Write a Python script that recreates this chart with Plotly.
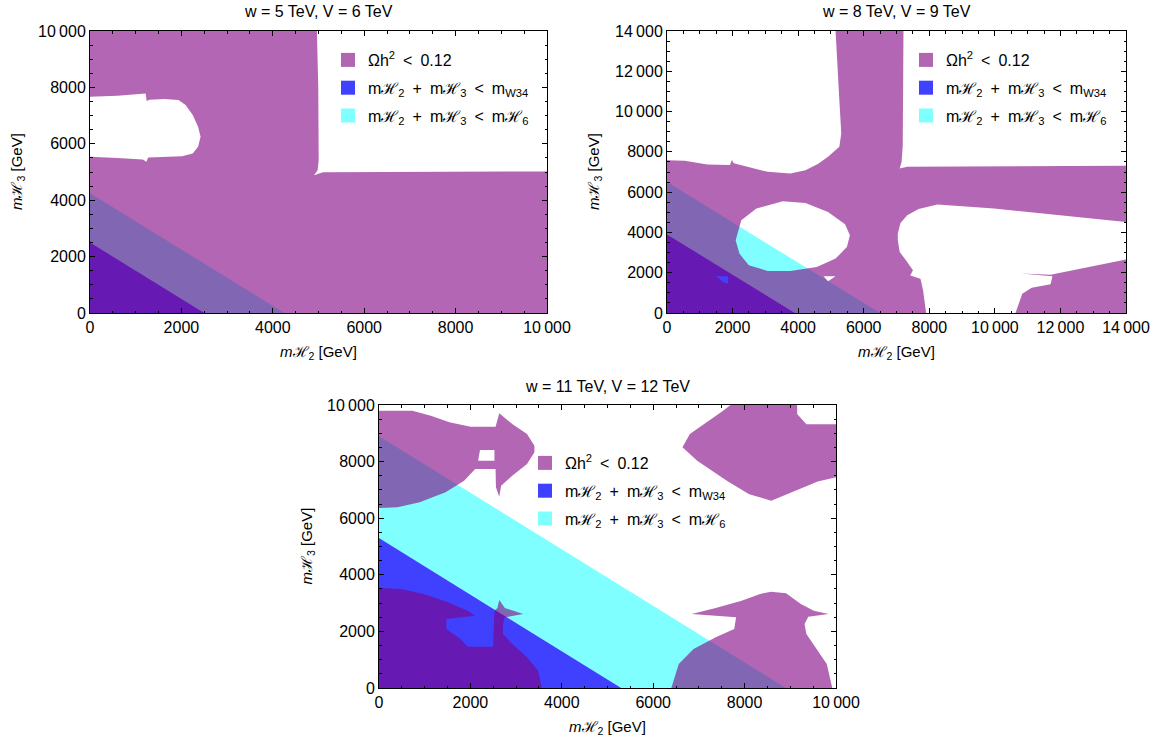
import plotly.graph_objects as go

# ---------------- data ----------------
TITLES = ["w = 5 TeV, V = 6 TeV", "w = 8 TeV, V = 9 TeV", "w = 11 TeV, V = 12 TeV"]
AXMAX = [10000, 14000, 10000]
M_W34 = [2500, 3900, 5300]     # blue:  m_H2 + m_H3 < m_W34
M_H6 = [4250, 6500, 8900]      # cyan:  m_H2 + m_H3 < m_H6
TICKS = [[0, 2000, 4000, 6000, 8000, 10000],
         [0, 2000, 4000, 6000, 8000, 10000, 12000, 14000],
         [0, 2000, 4000, 6000, 8000, 10000]]
TICKTEXT = [["0", "2000", "4000", "6000", "8000", "10\u2009000"],
            ["0", "2000", "4000", "6000", "8000", "10\u2009000", "12\u2009000", "14\u2009000"],
            ["0", "2000", "4000", "6000", "8000", "10\u2009000"]]

# panel 1 : relic-density region (one ring)
p1_x = [0, 10000, 10000, 7000, 5400, 5100, 4902, 4980, 5004, 5004, 4995, 4980, 4965, 0, 0,
        600, 1218, 1240, 1300, 1624, 1936, 2092, 2248, 2365, 2420, 2365, 2248, 2014, 1468,
        1272, 1233, 1155, 600, 0]
p1_y = [0, 0, 5018, 5010, 5000, 4993, 4886, 5065, 5420, 6500, 8000, 9000, 10000, 10000, 7669,
        7700, 7787, 7520, 7560, 7586, 7550, 7373, 7018, 6603, 6248, 5893, 5657, 5562, 5538,
        5515, 5361, 5444, 5500, 5538]

# panel 2 : main cross-shaped region
p2_x = [0, 7903, 7811, 7731, 7420, 7501, 7305, 7098, 7040, 7040, 7121, 7328, 7673, 8248, 9974,
        12275, 14000, 14000, 10000, 7328, 7098, 7155, 7190, 7213, 5142, 5200, 5257, 5315, 5257,
        4912, 4600, 4222, 3762, 3072, 2496, 2036, 1979, 1920, 1231, 541, 0]
p2_y = [0, 0, 1127, 1706, 1856, 2121, 2585, 3032, 3612, 3943, 4473, 4854, 5169, 5385, 5186,
        4805, 4523, 7306, 7290, 7257, 7174, 7500, 8300, 14000, 14000, 12000, 10570, 8914, 8251,
        7754, 7400, 7091, 6925, 7008, 7257, 7440, 7600, 7350, 7373, 7555, 7588]
p2_hole1_x = [2094, 2266, 2726, 3532, 4222, 4912, 5430, 5579, 5487, 5142, 4567, 3762, 3072, 2496, 2209]
p2_hole1_y = [3612, 4606, 5186, 5550, 5467, 5020, 4407, 3860, 3280, 2701, 2286, 2088, 2088, 2369, 2949]
p2_hole2_x = [1484, 1864, 1864, 1700, 1600]
p2_hole2_y = [1823, 1823, 1458, 1540, 1700]
p2_hole3_x = [4774, 5142, 4912]
p2_hole3_y = [1823, 1823, 1574]
p2_lobe_x = [10630, 10837, 11124, 11700, 11757, 10802, 11700, 12850, 14000, 14000]
p2_lobe_y = [0, 961, 1259, 1425, 1823, 1955, 1905, 2286, 2651, 0]

# panel 3 : four separate regions
p3a_x = [0, 405, 891, 1457, 1862, 2105, 2551, 2559, 2632, 2672, 2915, 3239, 3401, 3401, 3239,
         2915, 2632, 2551, 2008, 1538, 1134, 729, 0]
p3a_y = [6361, 6384, 6561, 6914, 7327, 7739, 7739, 7091, 6761, 7150, 7503, 7915, 8328, 8563, 8976,
         9329, 9706, 9235, 9235, 9388, 9624, 9800, 9800]
p3a_hole_x = [2210, 2526, 2526, 2170]
p3a_hole_y = [8410, 8410, 8033, 8033]
p3b_x = [6640, 6963, 7611, 8100, 8583, 9150, 9600, 10000, 10000, 9352, 9150, 9150, 7692, 7530, 7125, 6802]
p3b_y = [8505, 8033, 7327, 6850, 6620, 7000, 7300, 7444, 9317, 9317, 9683, 10000, 10000, 9800, 9329, 8976]
p3c_x = [0, 3563, 3482, 3239, 2915, 2713, 2713, 2753, 3158, 2753, 2632, 2591, 2526, 2494, 1943,
         1781, 1474, 1474, 2105, 1943, 1457, 972, 486, 0]
p3c_y = [0, 0, 612, 1084, 1555, 1908, 2262, 2497, 2615, 2827, 3110, 2827, 2733, 1461, 1461,
         1731, 2085, 2438, 2556, 2733, 3063, 3322, 3498, 3534]
p3d_x = [6397, 9919, 9798, 9555, 9352, 9312, 9393, 9838, 9514, 9231, 8907, 8583, 8340, 7935,
         7368, 6842, 7368, 7814, 7773, 7368, 6883, 6559]
p3d_y = [0, 0, 848, 1437, 1908, 2262, 2520, 2615, 2733, 2968, 3345, 3404, 3322, 3086,
         2827, 2615, 2556, 2497, 2085, 1790, 1378, 848]

LEGEND_NAMES = ["\u03a9h<sup>2</sup>\u2002&lt;\u20020.12",
                "m\u210b<sub>2</sub>\u2002+\u2002m\u210b<sub>3</sub>\u2002&lt;\u2002m<sub>W34</sub>",
                "m\u210b<sub>2</sub>\u2002+\u2002m\u210b<sub>3</sub>\u2002&lt;\u2002m\u210b<sub>6</sub>"]

# ---------------- styling ----------------
FONT = "Liberation Sans, Arial, sans-serif"
PURPLE_FILL = "rgba(128,0,128,0.6)"
BLUE_FILL = "rgba(0,0,255,0.75)"
CYAN_FILL = "rgba(0,255,255,0.5)"
LEG_COLORS = ["rgb(178,102,178)", "rgb(64,64,255)", "rgb(128,255,255)"]

W, H = 1169, 747
# plot-area pixel boxes (left, right, top, bottom)
BOXES = [(90, 547, 31, 313), (667, 1126, 31, 313), (379, 836, 405, 688)]
LEG_POS = [(328, 43), (906, 43), (525, 446)]


def with_holes(ox, oy, holes):
    xs = list(ox) + [ox[0]]
    ys = list(oy) + [oy[0]]
    for hx, hy in holes:
        xs += list(hx) + [hx[0], ox[0]]
        ys += list(hy) + [hy[0], oy[0]]
    return xs, ys


purple = [
    [with_holes(p1_x, p1_y, [])],
    [with_holes(p2_x, p2_y, [(p2_hole1_x, p2_hole1_y), (p2_hole2_x, p2_hole2_y), (p2_hole3_x, p2_hole3_y)]),
     with_holes(p2_lobe_x, p2_lobe_y, [])],
    [with_holes(p3a_x, p3a_y, [(p3a_hole_x, p3a_hole_y)]),
     with_holes(p3b_x, p3b_y, []),
     with_holes(p3c_x, p3c_y, []),
     with_holes(p3d_x, p3d_y, [])],
]

fig = go.Figure()
nofill = dict(width=0, color="rgba(0,0,0,0)")
for i in range(3):
    ax = "" if i == 0 else str(i + 1)
    xa, ya = "x" + ax, "y" + ax
    lg = "legend" + ax
    a, b = M_W34[i], M_H6[i]
    # cyan band
    fig.add_trace(go.Scatter(x=[a, b, 0, 0, a], y=[0, 0, b, a, 0], mode="lines", fill="toself",
                             fillcolor=CYAN_FILL, line=nofill, showlegend=False, hoverinfo="skip",
                             xaxis=xa, yaxis=ya))
    # blue triangle
    fig.add_trace(go.Scatter(x=[0, a, 0, 0], y=[0, 0, a, 0], mode="lines", fill="toself",
                             fillcolor=BLUE_FILL, line=nofill, showlegend=False, hoverinfo="skip",
                             xaxis=xa, yaxis=ya))
    for px, py in purple[i]:
        fig.add_trace(go.Scatter(x=px, y=py, mode="lines", fill="toself", fillcolor=PURPLE_FILL,
                                 line=nofill, showlegend=False, hoverinfo="skip", xaxis=xa, yaxis=ya))
    for k in range(3):
        fig.add_trace(go.Scatter(x=[None], y=[None], mode="markers", name=LEGEND_NAMES[k],
                                 marker=dict(symbol="square", size=14, color=LEG_COLORS[k]),
                                 legend=lg, legendgroup="g%d_%d" % (i, k), xaxis=xa, yaxis=ya))

layout = dict(width=W, height=H, autosize=False, template="none",
              margin=dict(l=0, r=0, t=0, b=0, pad=0, autoexpand=False),
              paper_bgcolor="white", plot_bgcolor="white", font=dict(family=FONT, size=15, color="black"))
annotations = []
for i in range(3):
    ax = "" if i == 0 else str(i + 1)
    l, r, t, bt = BOXES[i]
    common = dict(range=[0, AXMAX[i]], showgrid=False, zeroline=False, showline=True, linecolor="black",
                  linewidth=1, mirror="allticks", ticks="inside", ticklen=5, tickwidth=1, tickcolor="black",
                  tickvals=TICKS[i], ticktext=TICKTEXT[i], tickfont=dict(family=FONT, size=16, color="black"),
                  minor=dict(ticks="inside", ticklen=2.5, dtick=500, tickcolor="black", tickwidth=1),
                  fixedrange=True, automargin=False)
    layout["xaxis" + ax] = dict(domain=[l / W, r / W], anchor="y" + ax, **common)
    layout["yaxis" + ax] = dict(domain=[1 - bt / H, 1 - t / H], anchor="x" + ax, **common)
    lx, ly = LEG_POS[i]
    layout["legend" + ax] = dict(x=lx / W, y=1 - ly / H, xanchor="left", yanchor="top", xref="paper",
                                 yref="paper", bgcolor="rgba(0,0,0,0)", borderwidth=0,
                                 font=dict(family=FONT, size=16), tracegroupgap=4,
                                 traceorder="grouped", itemclick=False, itemdoubleclick=False)
    cx = (l + r) / 2
    annotations.append(dict(text=TITLES[i], x=cx / W, y=1 - (t - 19) / H, xref="paper", yref="paper",
                            showarrow=False, xanchor="center", yanchor="middle", font=dict(size=16)))
    annotations.append(dict(text="<i>m</i>\u210b<sub>2</sub> [GeV]", x=cx / W, y=1 - (bt + 39) / H,
                            xref="paper", yref="paper", showarrow=False, xanchor="center", yanchor="middle",
                            font=dict(size=15)))
    annotations.append(dict(text="<i>m</i>\u210b<sub>3</sub> [GeV]", x=(l - 72) / W,
                            y=1 - ((t + bt) / 2) / H, xref="paper", yref="paper", showarrow=False,
                            xanchor="center", yanchor="middle", textangle=-90, font=dict(size=15)))
layout["annotations"] = annotations
fig.update_layout(**layout)
fig.write_html("out.html")
